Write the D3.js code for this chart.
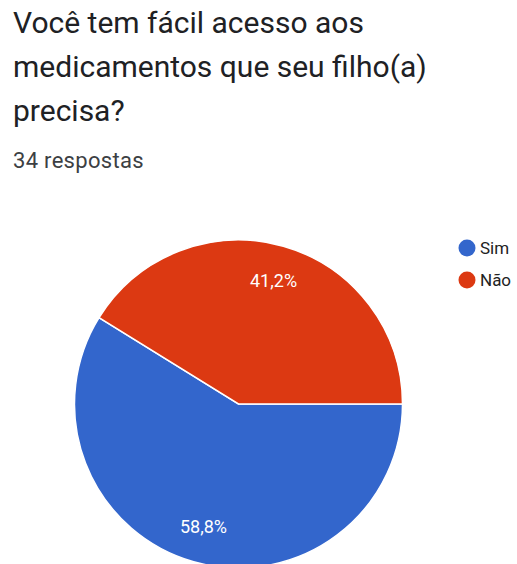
<!DOCTYPE html>
<html>
<head>
<meta charset="utf-8">
<script src="https://cdn.jsdelivr.net/npm/d3@7"></script>
<style>
  html, body { margin: 0; padding: 0; background: #fff; }
  svg { display: block; }
</style>
</head>
<body>
<svg id="chart" width="517" height="564"></svg>
<script>
// Survey question and answer counts
const titleLines = ["Você tem fácil acesso aos", "medicamentos que seu filho(a)", "precisa?"];
const subtitle = "34 respostas";
const categories = ["Sim", "Não"];
const counts = [20, 14];
const colors = ["#3366cc", "#dc3912"];

const svg = d3.select("#chart");
const font = "Roboto, 'Noto Sans', sans-serif";

// Title block
svg.append("g").selectAll("text")
  .data(titleLines)
  .join("text")
  .attr("x", 13)
  .attr("y", (d, i) => 33 + i * 44)
  .attr("font-family", font)
  .attr("font-size", 30)
  .attr("fill", "#202124")
  .text(d => d);

svg.append("text")
  .attr("x", 13)
  .attr("y", 168)
  .attr("font-family", font)
  .attr("font-size", 22)
  .attr("letter-spacing", 0.3)
  .attr("fill", "#3c4043")
  .text(subtitle);

// Pie
const cx = 238.5, cy = 404, radius = 164;
const total = d3.sum(counts);
const pie = d3.pie().sort(null).startAngle(Math.PI / 2).endAngle(Math.PI / 2 + 2 * Math.PI);
const arcs = pie(counts);
const arc = d3.arc().innerRadius(0).outerRadius(radius);
const labelArc = d3.arc().innerRadius(128).outerRadius(128);

const g = svg.append("g").attr("transform", `translate(${cx},${cy})`);
g.selectAll("path")
  .data(arcs)
  .join("path")
  .attr("d", arc)
  .attr("fill", (d, i) => colors[i])
  .attr("stroke", "#fff")
  .attr("stroke-width", 1.5);

const fmt = v => (v * 100).toFixed(1).replace(".", ",") + "%";
g.selectAll("text")
  .data(arcs)
  .join("text")
  .attr("transform", d => `translate(${labelArc.centroid(d)})`)
  .attr("text-anchor", "middle")
  .attr("dy", "0.35em")
  .attr("font-family", font)
  .attr("font-size", 18)
  .attr("fill", "#fff")
  .text(d => fmt(d.data / total));

// Legend
const legend = svg.append("g").attr("transform", "translate(467,248)");
const item = legend.selectAll("g")
  .data(categories)
  .join("g")
  .attr("transform", (d, i) => `translate(0,${i * 32})`);
item.append("circle")
  .attr("r", 8.5)
  .attr("fill", (d, i) => colors[i]);
item.append("text")
  .attr("x", 13)
  .attr("dy", "0.35em")
  .attr("font-family", font)
  .attr("font-size", 17)
  .attr("fill", "#222")
  .text(d => d);
</script>
</body>
</html>
